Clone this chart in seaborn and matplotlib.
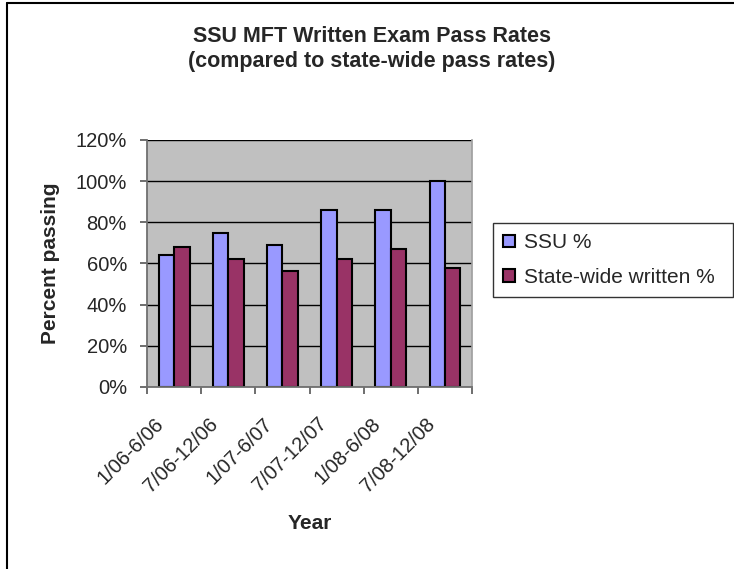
import seaborn as sns
import pandas as pd
import matplotlib.pyplot as plt
from matplotlib.lines import Line2D
from matplotlib.transforms import ScaledTranslation
from matplotlib.ticker import FixedLocator, PercentFormatter

sns.set_theme(style="white")
plt.rcParams['font.family'] = ['Liberation Sans', 'DejaVu Sans']

periods = ['1/06-6/06', '7/06-12/06', '1/07-6/07', '7/07-12/07', '1/08-6/08', '7/08-12/08']
ssu = [64, 75, 69, 86, 86, 100]
state = [68, 62, 56.5, 62, 67, 58]
series = ['SSU %', 'State-wide written %']
colors = ['#9999FF', '#993366']

df = pd.DataFrame({
    'Year': periods * 2,
    'Percent': ssu + state,
    'Series': [series[0]] * len(periods) + [series[1]] * len(periods),
})

fig = plt.figure(figsize=(7.34, 5.69), dpi=100, facecolor='white')
ax = fig.add_axes([0.2003, 0.3199, 0.4428, 0.4341])

sns.barplot(data=df, x='Year', y='Percent', hue='Series', palette=colors,
            width=0.57, edgecolor='black', linewidth=1.5, saturation=1, ax=ax)

ax.set_facecolor('#C0C0C0')
ax.set_ylim(0, 120)
ax.set_xlim(-0.5, len(periods) - 0.5)
ax.set_yticks(range(0, 121, 20))
ax.yaxis.set_major_formatter(PercentFormatter(decimals=0))
ax.grid(axis='y', color='black', linewidth=1)
ax.set_axisbelow(True)
ax.spines['top'].set_visible(False)
ax.spines['right'].set_color('#A0A0A0')
for side in ['left', 'bottom']:
    ax.spines[side].set_color('#707070')
    ax.spines[side].set_linewidth(1.3)

ax.xaxis.set_minor_locator(FixedLocator([i - 0.5 for i in range(len(periods) + 1)]))
ax.tick_params(axis='x', which='major', length=0, pad=19.5, labelsize=14.5)
ax.tick_params(axis='x', which='minor', length=5, width=1.2, color='#555555', bottom=True)
ax.tick_params(axis='y', length=5, width=1.2, color='#555555', left=True, pad=9.5, labelsize=14.5)
shift = ScaledTranslation(-20 / 100, 0, fig.dpi_scale_trans)
for lab in ax.get_xticklabels():
    lab.set_rotation(45)
    lab.set_ha('right')
    lab.set_va('top')
    lab.set_rotation_mode('anchor')
    lab.set_transform(lab.get_transform() + shift)

ax.set_xlabel('Year', fontsize=15, fontweight='bold')
ax.xaxis.set_label_coords(0.5, -0.515)
ax.set_ylabel('Percent passing', fontsize=15, fontweight='bold')
ax.yaxis.set_label_coords(-0.268, 0.5)

leg = ax.legend(loc='upper left', bbox_to_anchor=(0.6717, 0.4745, 0.327, 0.1336),
                bbox_transform=fig.transFigure, mode='expand', fontsize=15,
                frameon=True, fancybox=False, edgecolor='black',
                handlelength=0.55, handleheight=0.55, handletextpad=0.45,
                borderpad=0.5, labelspacing=0.75, borderaxespad=0)
leg.get_frame().set_linewidth(1)

fig.text(0.507, 0.926, 'SSU MFT Written Exam Pass Rates', ha='center', va='baseline',
         fontsize=15.5, fontweight='bold')
fig.text(0.507, 0.882, '(compared to state-wide pass rates)', ha='center', va='baseline',
         fontsize=15.5, fontweight='bold')

# outer chart border (cropped on right and bottom)
fig.add_artist(Line2D([0.0095, 0.0095], [0, 0.9947], color='black', linewidth=1.5,
                      transform=fig.transFigure))
fig.add_artist(Line2D([0.0095, 1], [0.9947, 0.9947], color='black', linewidth=1.5,
                      transform=fig.transFigure))

fig.savefig('out.png', dpi=100)
